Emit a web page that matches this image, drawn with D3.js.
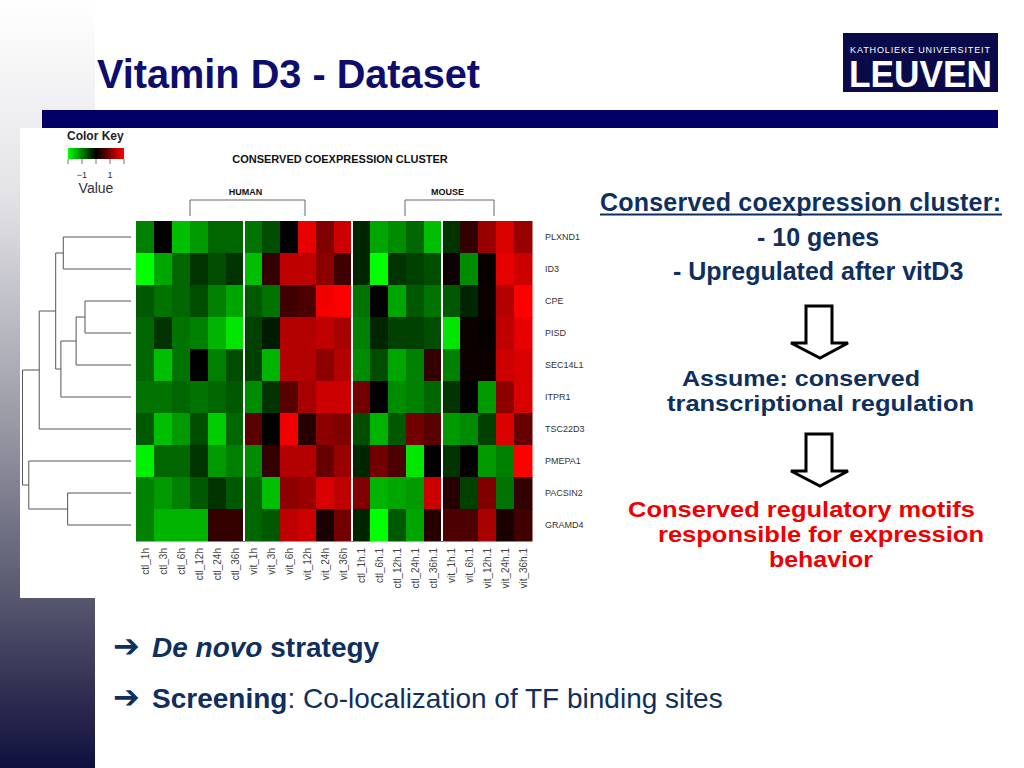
<!DOCTYPE html>
<html>
<head>
<meta charset="utf-8">
<script src="https://cdn.jsdelivr.net/npm/d3@7"></script>
<style>
  body { margin: 0; background: #fff; }
  text { font-family: "Liberation Sans", Arial, sans-serif; }
</style>
</head>
<body>
<div id="chart"></div>
<script>
// genes (rows, top to bottom) and samples (columns, left to right)
const genes = ["PLXND1", "ID3", "CPE", "PISD", "SEC14L1", "ITPR1", "TSC22D3", "PMEPA1", "PACSIN2", "GRAMD4"];
const samples = ["ctl_1h", "ctl_3h", "ctl_6h", "ctl_12h", "ctl_24h", "ctl_36h",
  "vit_1h", "vit_3h", "vit_6h", "vit_12h", "vit_24h", "vit_36h",
  "ctl_1h.1", "ctl_6h.1", "ctl_12h.1", "ctl_24h.1", "ctl_36h.1",
  "vit_1h.1", "vit_6h.1", "vit_12h.1", "vit_24h.1", "vit_36h.1"];
// white gaps after these column indices
const colBreaks = [6, 12, 17];

// scaled expression (green = low, red = high)
const values = [
  [-1.0, 0.0, -1.5, -1.2, -0.8, -0.8, -0.9, -0.6, 0.0, 1.8, 1.0, 1.6, -0.3, -1.3, -1.1, -0.8, -1.5, -0.4, 0.4, 1.2, 1.7, 1.2],
  [-2.0, -1.3, -0.8, -0.4, -0.6, -0.4, -1.5, 0.4, 1.5, 1.5, 1.1, 0.5, -0.3, -2.0, -0.4, -0.5, -0.6, 0.1, -1.1, 0.05, 1.8, 1.6],
  [-0.7, -0.9, -0.8, -0.6, -1.0, -1.3, -0.7, -0.9, 0.5, 0.6, 1.9, 2.0, -0.9, 0.0, -1.3, -0.7, -0.9, -0.7, -0.3, 0.1, 1.4, 2.0],
  [-0.8, -0.4, -0.9, -1.0, -1.4, -1.8, -0.5, -0.2, 1.4, 1.4, 1.5, 1.3, -1.0, -0.3, -0.5, -0.5, -0.6, -1.8, 0.1, 0.05, 1.5, 1.8],
  [-0.8, -1.5, -0.9, 0.0, -1.0, -0.6, -0.5, -1.4, 1.4, 1.4, 1.1, 1.4, -1.1, -0.6, -1.3, -1.0, 0.4, -1.0, 0.1, 0.1, 1.6, 1.7],
  [-0.9, -0.9, -0.8, -0.9, -0.8, -0.7, -1.1, -0.4, 0.7, 1.3, 1.6, 1.6, 0.9, 0.0, -1.1, -1.0, -0.8, -0.4, 0.0, -1.2, 1.1, 1.7],
  [-0.7, -1.5, -1.2, -0.6, -1.6, -0.8, 0.7, 0.0, 1.9, 0.3, 1.1, 1.0, -0.6, -1.4, -0.7, 0.9, 0.7, -1.2, -1.1, -0.5, 1.7, 0.8],
  [-1.9, -0.8, -0.8, -0.4, -1.2, -1.0, -1.1, 0.4, 1.4, 1.4, 0.8, 1.2, -0.3, 0.9, 0.6, -1.8, 0.0, -0.4, 0.0, -1.2, -1.0, 2.0],
  [-1.0, -1.2, -1.0, -0.7, -0.4, -0.7, -0.8, -1.5, 1.1, 1.2, 1.7, 1.5, 1.0, -1.4, -1.3, -1.2, 1.6, 0.3, -0.5, 1.0, -0.9, 0.4],
  [-1.0, -1.4, -1.4, -1.4, 0.4, 0.4, -0.8, -0.7, 1.5, 1.6, 0.2, 0.9, -0.3, -2.2, -0.7, -1.3, 0.3, 0.6, 0.6, 1.3, 0.2, 0.5]
];

// row dendrogram: merge heights, leaves are row indices
const rowTree = {h: 5.0, children: [
  {h: 4.23, children: [
    {h: 3.47, children: [
      {h: 3.12, children: [0, 1]},
      {h: 3.23, children: [{h: 2.53, children: [{h: 2.12, children: [2, 3]}, 4]}, 5]}
    ]},
    6
  ]},
  {h: 4.71, children: [7, {h: 2.92, children: [8, 9]}]}
]};

const keyTicks = [-2, -1, 0, 1, 2];
const keyLabels = [-1, 1];

const width = 1024, height = 768;
const svg = d3.select("#chart").append("svg")
  .attr("width", width).attr("height", height);

// --- slide background ---
const defs = svg.append("defs");
const grad = defs.append("linearGradient").attr("id", "side")
  .attr("x1", 0).attr("y1", 0).attr("x2", 0).attr("y2", 1);
grad.append("stop").attr("offset", "0%").attr("stop-color", "#ffffff");
grad.append("stop").attr("offset", "25%").attr("stop-color", "#e4e4e8");
grad.append("stop").attr("offset", "55%").attr("stop-color", "#9a9aa6");
grad.append("stop").attr("offset", "80%").attr("stop-color", "#50506a");
grad.append("stop").attr("offset", "100%").attr("stop-color", "#10103e");
svg.append("rect").attr("x", 0).attr("y", 0).attr("width", 95).attr("height", height)
  .attr("fill", "url(#side)");

svg.append("text").attr("x", 97).attr("y", 88)
  .attr("font-size", 40).attr("font-weight", "bold").attr("fill", "#0d0d6e")
  .attr("textLength", 383).attr("lengthAdjust", "spacingAndGlyphs")
  .text("Vitamin D3 - Dataset");

// logo
svg.append("rect").attr("x", 843).attr("y", 33).attr("width", 155).attr("height", 59).attr("fill", "#0a0a4a");
svg.append("text").attr("x", 850).attr("y", 53).attr("font-size", 9).attr("fill", "#fff")
  .attr("textLength", 140).text("KATHOLIEKE UNIVERSITEIT");
svg.append("text").attr("x", 849).attr("y", 87).attr("font-size", 37).attr("font-weight", "bold")
  .attr("fill", "#fff").attr("textLength", 143).attr("lengthAdjust", "spacingAndGlyphs").text("LEUVEN");

svg.append("rect").attr("x", 42).attr("y", 110).attr("width", 956).attr("height", 18).attr("fill", "#000066");

// --- heatmap panel ---
svg.append("rect").attr("x", 20).attr("y", 128).attr("width", 575).attr("height", 470).attr("fill", "#fff");

const color = d3.scaleLinear().domain([-2, 0, 2])
  .range(["#00ff00", "#000000", "#ff0000"]).clamp(true);

const x = d3.scaleBand().domain(d3.range(samples.length)).range([136, 532]);
const y = d3.scaleBand().domain(d3.range(genes.length)).range([221, 541]);

const cells = [];
values.forEach((row, r) => row.forEach((v, c) => cells.push({r, c, v})));
svg.append("g").selectAll("rect").data(cells).join("rect")
  .attr("x", d => x(d.c)).attr("y", d => y(d.r))
  .attr("width", x.bandwidth() + 0.5).attr("height", y.bandwidth() + 0.5)
  .attr("fill", d => color(d.v));

svg.append("g").selectAll("line").data(colBreaks).join("line")
  .attr("x1", d => x(d)).attr("x2", d => x(d))
  .attr("y1", y.range()[0]).attr("y2", y.range()[1])
  .attr("stroke", "#fff").attr("stroke-width", 2);

// row labels
svg.append("g").selectAll("text").data(genes).join("text")
  .attr("x", 545).attr("y", (d, i) => y(i) + y.bandwidth() / 2 + 3)
  .attr("font-size", 9).attr("fill", "#333").text(d => d);

// column labels
svg.append("g").selectAll("text").data(samples).join("text")
  .attr("transform", (d, i) => `translate(${x(i) + x.bandwidth() / 2 + 3.5},548) rotate(-90)`)
  .attr("text-anchor", "end").attr("font-size", 10).attr("fill", "#444").text(d => d);

// dendrogram
const hx = d3.scaleLinear().domain([0, 5]).range([131, 22.5]);
const root = d3.hierarchy(rowTree, d => typeof d === "number" ? null : d.children);
root.eachAfter(n => {
  if (n.children) {
    n.py = d3.mean(n.children, c => c.py);
    n.px = hx(n.data.h);
  } else {
    n.py = y(n.data) + y.bandwidth() / 2;
    n.px = hx(0);
  }
});
const segs = [];
root.each(n => {
  if (!n.children) return;
  segs.push([n.px, n.children[0].py, n.px, n.children[1].py]);
  n.children.forEach(c => segs.push([n.px, c.py, c.px, c.py]));
});
svg.append("g").selectAll("line").data(segs).join("line")
  .attr("x1", d => d[0]).attr("y1", d => d[1]).attr("x2", d => d[2]).attr("y2", d => d[3])
  .attr("stroke", "#555").attr("stroke-width", 1);

// colour key
svg.append("text").attr("x", 67).attr("y", 140).attr("font-size", 12).attr("font-weight", "bold")
  .attr("fill", "#222").text("Color Key");
const kx = d3.scaleLinear().domain([-2, 2]).range([68, 124]);
const kgrad = defs.append("linearGradient").attr("id", "key");
[-2, 0, 2].forEach(v => kgrad.append("stop")
  .attr("offset", ((v + 2) / 4 * 100) + "%").attr("stop-color", color(v)));
svg.append("rect").attr("x", 68).attr("y", 148).attr("width", 56).attr("height", 11).attr("fill", "url(#key)");
svg.append("g").selectAll("line").data(keyTicks).join("line")
  .attr("x1", d => kx(d)).attr("x2", d => kx(d)).attr("y1", 159).attr("y2", 164)
  .attr("stroke", "#777");
svg.append("g").selectAll("text").data(keyLabels).join("text")
  .attr("x", d => kx(d)).attr("y", 178).attr("text-anchor", "middle")
  .attr("font-size", 9).attr("fill", "#333").text(d => d === -1 ? "\u22121" : d);
svg.append("text").attr("x", 96).attr("y", 193).attr("text-anchor", "middle")
  .attr("font-size", 14).attr("fill", "#333").text("Value");

svg.append("text").attr("x", 340).attr("y", 163).attr("text-anchor", "middle")
  .attr("font-size", 11).attr("font-weight", "bold").attr("fill", "#111")
  .text("CONSERVED COEXPRESSION CLUSTER");

// species brackets
const groups = [{name: "HUMAN", x0: 190, x1: 305}, {name: "MOUSE", x0: 405, x1: 494}];
svg.append("g").selectAll("path").data(groups).join("path")
  .attr("d", d => `M${d.x0},216V200H${d.x1}V216`)
  .attr("fill", "none").attr("stroke", "#666").attr("stroke-width", 1);
svg.append("g").selectAll("text").data(groups).join("text")
  .attr("x", d => (d.x0 + d.x1) / 2 - 2).attr("y", 195).attr("text-anchor", "middle")
  .attr("font-size", 9).attr("font-weight", "bold").attr("fill", "#111").text(d => d.name);

// --- right side text ---
const navy = "#0f2f5e";
svg.append("text").attr("x", 600).attr("y", 211).attr("font-size", 25).attr("font-weight", "bold")
  .attr("fill", navy).attr("textLength", 401).text("Conserved coexpression cluster:");
svg.append("line").attr("x1", 600).attr("x2", 1002).attr("y1", 214.5).attr("y2", 214.5)
  .attr("stroke", navy).attr("stroke-width", 2);
svg.append("text").attr("x", 757).attr("y", 246).attr("font-size", 25).attr("font-weight", "bold")
  .attr("fill", navy).text("- 10 genes");
svg.append("text").attr("x", 673).attr("y", 280).attr("font-size", 25).attr("font-weight", "bold")
  .attr("fill", navy).text("- Upregulated after vitD3");
svg.append("text").attr("x", 682).attr("y", 386).attr("font-size", 22).attr("font-weight", "bold")
  .attr("fill", navy).attr("textLength", 238).attr("lengthAdjust", "spacingAndGlyphs").text("Assume: conserved");
svg.append("text").attr("x", 667).attr("y", 411).attr("font-size", 22).attr("font-weight", "bold")
  .attr("fill", navy).attr("textLength", 307).attr("lengthAdjust", "spacingAndGlyphs").text("transcriptional regulation");
const red = "#ee0000";
[["Conserved regulatory motifs", 628, 517, 347], ["responsible for expression", 658, 542, 326], ["behavior", 769, 567, 104]]
  .forEach(([t, tx, ty, tl]) => svg.append("text").attr("x", tx).attr("y", ty).attr("font-size", 22)
    .attr("font-weight", "bold").attr("fill", red).attr("textLength", tl)
    .attr("lengthAdjust", "spacingAndGlyphs").text(t));

// hollow down arrows
[306, 434].forEach(top => {
  svg.append("path")
    .attr("d", `M806,${top}H832V${top + 37}H848L820,${top + 52}L791,${top + 37}H806Z`)
    .attr("fill", "#fff").attr("stroke", "#000").attr("stroke-width", 3).attr("stroke-linejoin", "miter");
});

// --- bottom bullets ---
const bullet = svg.append("g").attr("fill", navy);
[657, 708].forEach(by => bullet.append("text").attr("x", 113).attr("y", by).attr("font-size", 32)
  .attr("font-weight", "bold").style("font-family", "DejaVu Sans").text("\u2794"));
const t1 = bullet.append("text").attr("x", 152).attr("y", 657).attr("font-size", 28).attr("font-weight", "bold");
t1.append("tspan").attr("font-style", "italic").text("De novo");
t1.append("tspan").text(" strategy");
const t2 = bullet.append("text").attr("x", 152).attr("y", 708).attr("font-size", 28);
t2.append("tspan").attr("font-weight", "bold").text("Screening");
t2.append("tspan").text(": Co-localization of TF binding sites");
</script>
</body>
</html>
